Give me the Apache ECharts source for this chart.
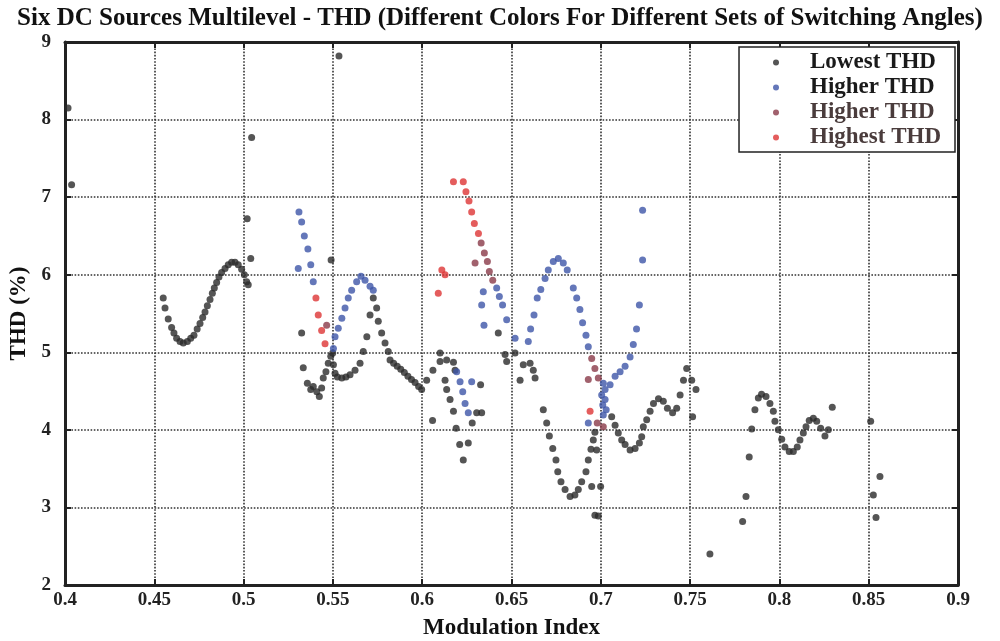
<!DOCTYPE html>
<html>
<head>
<meta charset="utf-8">
<script src="https://cdn.jsdelivr.net/npm/echarts@6/dist/echarts.min.js"></script>
<style>
  html, body { margin: 0; padding: 0; background: #fff; }
  #chart { width: 1000px; height: 641px; }
</style>
</head>
<body>
<div id="chart"></div>
<script>
// 数据：从图上读出来的点 [调制指数, THD%]
var seriesNames = ['Lowest THD', 'Higher THD', 'Higher THD ', 'Highest THD'];
var xTicks = ['0.4', '0.45', '0.5', '0.55', '0.6', '0.65', '0.7', '0.75', '0.8', '0.85', '0.9'];
var yTicks = ['2', '3', '4', '5', '6', '7', '8', '9'];

var lowestTHD = [
  [0.4017, 8.15], [0.4037, 7.16],
  [0.455, 5.70], [0.456, 5.57], [0.4578, 5.43], [0.4597, 5.32], [0.461, 5.25], [0.4625, 5.18],
  [0.4644, 5.14], [0.4662, 5.12], [0.4685, 5.14], [0.4704, 5.18], [0.4722, 5.22], [0.474, 5.30],
  [0.4756, 5.37], [0.4771, 5.45], [0.4784, 5.52], [0.4797, 5.60], [0.4812, 5.68], [0.4825, 5.76],
  [0.4836, 5.83], [0.4849, 5.90], [0.4862, 5.97], [0.4877, 6.03], [0.4896, 6.08], [0.4914, 6.13],
  [0.4933, 6.16], [0.4952, 6.16], [0.497, 6.13], [0.4989, 6.07], [0.5004, 6.00], [0.5017, 5.91],
  [0.5026, 5.87], [0.504, 6.21], [0.502, 6.72], [0.5045, 7.77],
  [0.5534, 8.82],
  [0.5325, 5.25], [0.5334, 4.80], [0.5357, 4.60], [0.5376, 4.52], [0.539, 4.56], [0.541, 4.49],
  [0.5424, 4.43], [0.5437, 4.54], [0.5446, 4.67], [0.5461, 4.75], [0.5474, 4.86], [0.5488, 4.95],
  [0.5499, 4.99], [0.5503, 4.84], [0.5512, 4.73], [0.5525, 4.68], [0.555, 4.67], [0.5573, 4.68],
  [0.5596, 4.71], [0.5624, 4.77], [0.5652, 4.86], [0.567, 5.01], [0.569, 5.20], [0.549, 6.19],
  [0.5708, 5.48], [0.5726, 5.70], [0.5745, 5.57], [0.5754, 5.40], [0.5773, 5.25], [0.5792, 5.12],
  [0.581, 5.01], [0.582, 4.90], [0.584, 4.86], [0.586, 4.82], [0.588, 4.78], [0.590, 4.74],
  [0.592, 4.69], [0.594, 4.65], [0.596, 4.61], [0.598, 4.56], [0.5997, 4.52],
  [0.6025, 4.64], [0.606, 4.77], [0.61, 4.88], [0.6137, 4.90], [0.6175, 4.87], [0.6184, 4.77],
  [0.6058, 4.12],
  [0.61, 4.99], [0.6128, 4.64], [0.6137, 4.52], [0.6156, 4.39], [0.6175, 4.24], [0.619, 4.02],
  [0.621, 3.81], [0.6258, 3.83], [0.623, 3.61], [0.628, 4.09], [0.6305, 4.22], [0.6327, 4.58],
  [0.6333, 4.22],
  [0.6426, 5.25], [0.6464, 4.97], [0.6473, 4.88], [0.652, 4.99], [0.6548, 4.64], [0.6566, 4.84],
  [0.6604, 4.86], [0.6622, 4.77], [0.6632, 4.67],
  [0.6678, 4.26], [0.6697, 4.09], [0.6712, 3.92], [0.6731, 3.76], [0.6749, 3.61], [0.6759, 3.46],
  [0.6777, 3.33], [0.68, 3.23], [0.6828, 3.14], [0.6855, 3.16], [0.6874, 3.23], [0.6893, 3.33],
  [0.6917, 3.46], [0.693, 3.61], [0.6945, 3.75], [0.6958, 3.87], [0.6967, 3.97], [0.6977, 3.74],
  [0.6949, 3.27], [0.6999, 3.27], [0.6967, 2.90], [0.6986, 2.89],
  [0.7061, 4.17], [0.708, 4.06], [0.7098, 3.96], [0.7117, 3.87], [0.7136, 3.81], [0.7164, 3.74],
  [0.7192, 3.76], [0.7216, 3.83], [0.7229, 3.91], [0.7238, 4.04], [0.7257, 4.13], [0.7276, 4.24],
  [0.7295, 4.34], [0.7323, 4.40], [0.735, 4.37], [0.7373, 4.28], [0.7402, 4.22], [0.7425, 4.28],
  [0.7444, 4.45], [0.7463, 4.64], [0.7481, 4.79], [0.7509, 4.64], [0.7533, 4.52], [0.7514, 4.17],
  [0.7611, 2.40], [0.7794, 2.82], [0.7813, 3.14], [0.7831, 3.65], [0.7845, 4.01], [0.7863, 4.26],
  [0.7882, 4.41], [0.79, 4.46], [0.7925, 4.43], [0.7947, 4.34], [0.7966, 4.24], [0.7975, 4.11],
  [0.7994, 4.00], [0.8013, 3.88], [0.8031, 3.78], [0.8055, 3.72], [0.8078, 3.72], [0.81, 3.78],
  [0.8115, 3.87], [0.8134, 3.96], [0.8149, 4.04], [0.8167, 4.12], [0.819, 4.15], [0.8209, 4.11],
  [0.8231, 4.02], [0.8255, 3.92], [0.8274, 4.00], [0.8296, 4.29],
  [0.8511, 4.11], [0.8563, 3.40], [0.8526, 3.16], [0.8541, 2.87]
];

var higherTHD = [
  [0.531, 6.81], [0.5325, 6.68], [0.534, 6.50], [0.536, 6.33], [0.5376, 6.13], [0.5306, 6.08],
  [0.539, 5.91],
  [0.5503, 5.05], [0.5512, 5.20], [0.553, 5.31], [0.555, 5.44], [0.5568, 5.57], [0.5586, 5.70],
  [0.5605, 5.80], [0.5633, 5.91], [0.5657, 5.98], [0.568, 5.93], [0.5708, 5.85], [0.5726, 5.80],
  [0.6193, 4.75], [0.6212, 4.62], [0.6227, 4.49], [0.624, 4.34], [0.6258, 4.22], [0.6277, 4.62],
  [0.6342, 5.78], [0.6333, 5.61], [0.6346, 5.35], [0.6417, 5.83], [0.6432, 5.72], [0.645, 5.61],
  [0.6473, 5.42], [0.652, 5.18],
  [0.6594, 5.14], [0.6607, 5.30], [0.6626, 5.48], [0.6644, 5.70], [0.6664, 5.81], [0.6688, 5.95],
  [0.6706, 6.06], [0.6734, 6.17], [0.6762, 6.21], [0.679, 6.15], [0.6812, 6.06], [0.6846, 5.83],
  [0.6865, 5.70], [0.6883, 5.55], [0.6898, 5.38], [0.6917, 5.22], [0.693, 5.07], [0.693, 4.09],
  [0.7014, 4.60], [0.7024, 4.52], [0.7005, 4.45], [0.7024, 4.39], [0.7011, 4.32], [0.703, 4.26],
  [0.7014, 4.19],
  [0.7052, 4.58], [0.708, 4.69], [0.7108, 4.75], [0.7136, 4.82], [0.7164, 4.94], [0.7182, 5.10],
  [0.72, 5.30], [0.7216, 5.61], [0.7234, 6.19], [0.7234, 6.83]
];

var higherTHD2 = [
  [0.5465, 5.35], [0.6296, 6.15], [0.633, 6.41], [0.6348, 6.28], [0.6365, 6.17], [0.6376, 6.04],
  [0.6395, 5.93], [0.6949, 4.92], [0.6967, 4.79], [0.6986, 4.67], [0.693, 4.65], [0.698, 4.09],
  [0.7014, 4.04]
];

var highestTHD = [
  [0.5405, 5.70], [0.5418, 5.48], [0.5437, 5.28], [0.5456, 5.11],
  [0.609, 5.76], [0.611, 6.06], [0.6128, 6.00],
  [0.6175, 7.20], [0.623, 7.20], [0.6245, 7.07], [0.6262, 6.95], [0.6277, 6.81], [0.6292, 6.66],
  [0.6315, 6.53], [0.694, 4.24]
];

var colors = ['#2b2b2b', '#3d55a8', '#8a3a48', '#dd3535'];
var serif = '"Liberation Serif", "DejaVu Serif", serif';

var chart = echarts.init(document.getElementById('chart'));

function tickLabel(v) {
  var s = (Math.round(v * 100) / 100).toString();
  return xTicks.indexOf(s) >= 0 ? s : '';
}

var option = {
  backgroundColor: '#fff',
  animation: false,
  color: colors,
  title: {
    text: 'Six DC Sources Multilevel - THD (Different Colors For Different Sets of Switching Angles)',
    left: 'center',
    top: 1,
    textStyle: { fontFamily: serif, fontWeight: 'bold', fontSize: 25, color: '#111' }
  },
  legend: {
    orient: 'vertical',
    right: 45,
    top: 47,
    itemWidth: 6,
    itemHeight: 6,
    itemGap: 2,
    padding: [4, 14, 3, 34],
    borderColor: '#222',
    borderWidth: 1.5,
    backgroundColor: '#fff',
    icon: 'circle',
    textStyle: { fontFamily: serif, fontWeight: 'bold', fontSize: 23, lineHeight: 23, color: '#222', padding: [0, 0, 0, 26] },
    data: [
      { name: seriesNames[0], textStyle: { color: '#1a1a1a' } },
      { name: seriesNames[1], textStyle: { color: '#1a1a1a' } },
      { name: seriesNames[2], textStyle: { color: '#4a3c3c' } },
      { name: seriesNames[3], textStyle: { color: '#4a3c3c' } }
    ]
  },
  grid: { left: 65, right: 42, top: 42, bottom: 56, containLabel: false, outerBoundsMode: 'none' },
  xAxis: [{
    type: 'value',
    min: 0.4, max: 0.9, interval: 0.05,
    name: 'Modulation Index',
    nameLocation: 'middle',
    nameGap: 32,
    nameTextStyle: { fontFamily: serif, fontWeight: 'bold', fontSize: 23, color: '#111' },
    axisLine: { lineStyle: { color: '#222', width: 3 } },
    axisTick: { inside: true, length: 6, lineStyle: { color: '#222', width: 2 } },
    axisLabel: { formatter: tickLabel, fontFamily: serif, fontWeight: 'bold', fontSize: 19, color: '#222', margin: 6 },
    splitLine: { show: true, lineStyle: { color: '#333', type: 'dotted', width: 1.6 } }
  }, {
    type: 'value', position: 'top',
    min: 0.4, max: 0.9, interval: 0.05,
    axisLine: { lineStyle: { color: '#222', width: 3 } },
    axisTick: { inside: true, length: 6, lineStyle: { color: '#222', width: 2 } },
    axisLabel: { show: false },
    splitLine: { show: false }
  }],
  yAxis: [{
    type: 'value',
    min: 2, max: 9, interval: 1,
    name: 'THD (%)',
    nameLocation: 'middle',
    nameGap: 34,
    nameTextStyle: { fontFamily: serif, fontWeight: 'bold', fontSize: 23, color: '#111' },
    axisLine: { lineStyle: { color: '#222', width: 3 } },
    axisTick: { inside: true, length: 6, lineStyle: { color: '#222', width: 2 } },
    axisLabel: {
      formatter: function (v) { return yTicks.indexOf(String(v)) >= 0 ? String(v) : ''; },
      fontFamily: serif, fontWeight: 'bold', fontSize: 19, color: '#222', margin: 14
    },
    splitLine: { show: true, lineStyle: { color: '#333', type: 'dotted', width: 1.6 } }
  }, {
    type: 'value', position: 'right',
    min: 2, max: 9, interval: 1,
    axisLine: { lineStyle: { color: '#222', width: 3 } },
    axisTick: { inside: true, length: 6, lineStyle: { color: '#222', width: 2 } },
    axisLabel: { show: false },
    splitLine: { show: false }
  }],
  series: [
    { name: seriesNames[0], type: 'scatter', symbolSize: 7, data: lowestTHD, itemStyle: { color: colors[0] } },
    { name: seriesNames[1], type: 'scatter', symbolSize: 7, data: higherTHD, itemStyle: { color: colors[1] } },
    { name: seriesNames[2], type: 'scatter', symbolSize: 7, data: higherTHD2, itemStyle: { color: colors[2] } },
    { name: seriesNames[3], type: 'scatter', symbolSize: 7, data: highestTHD, itemStyle: { color: colors[3] } }
  ]
};

chart.setOption(option);
window.addEventListener('resize', function () { chart.resize(); });
</script>
</body>
</html>
